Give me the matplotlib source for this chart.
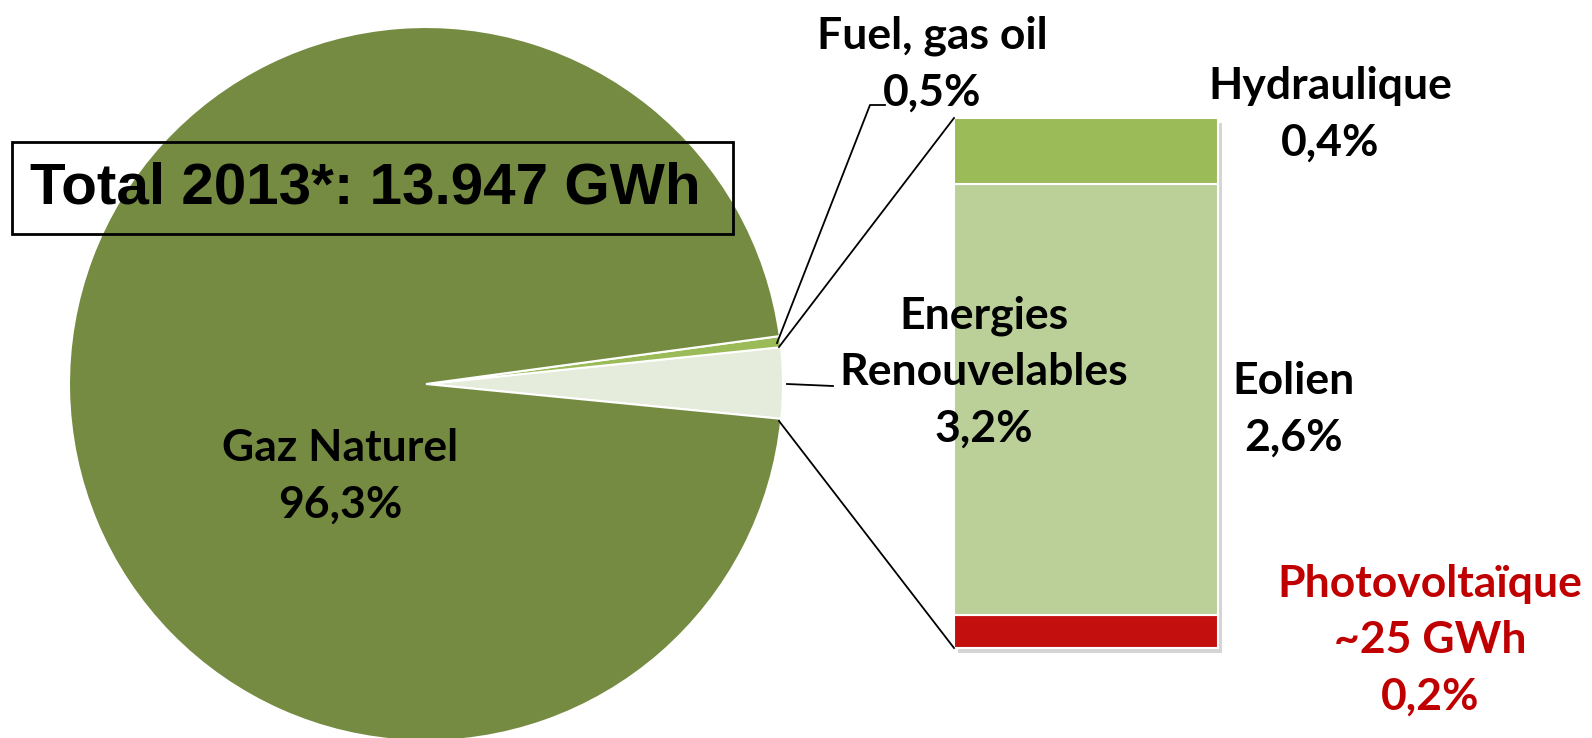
import numpy as np
import matplotlib.pyplot as plt
from matplotlib.patches import Rectangle

# pie: share of electricity production 2013 (%)
pie_labels = ['Energies Renouvelables', 'Fuel, gas oil', 'Gaz Naturel']
pie_values = [3.2, 0.5, 96.3]
pie_colors = ['#E6ECDC', '#9BBB59', '#758B42']

# bar: breakdown of renewables (%), bottom to top
bar_labels = ['Photovoltaïque', 'Eolien', 'Hydraulique']
bar_values = [0.2, 2.6, 0.4]
bar_colors = ['#C40F0F', '#BBCF99', '#9BBB59']

W, H = 1592, 738
fig = plt.figure(figsize=(W / 100, H / 100), dpi=100)
ax = fig.add_axes([0, 0, 1, 1])

def Y(y):
    # image rows -> axis coords
    return H - y

# pie
cx, cy, r = 426, Y(384), 357
ax.pie(pie_values, colors=pie_colors, startangle=-5.6, counterclock=True,
       center=(cx, cy), radius=r, frame=True,
       wedgeprops=dict(edgecolor='white', linewidth=1.5))
ax.set_xlim(0, W)
ax.set_ylim(0, H)
ax.set_aspect('equal')
ax.axis('off')

# stacked bar of renewables
bx0, bx1 = 954, 1218
btop, bbot = Y(118), Y(648)
scale = (btop - bbot) / sum(bar_values)
ax.add_patch(Rectangle((bx0 + 4, bbot - 5), bx1 - bx0, btop - bbot,
                       facecolor='#888888', alpha=0.35, edgecolor='none', zorder=2))
bottom = bbot
for v, c in zip(bar_values, bar_colors):
    ax.bar(bx0, v * scale, width=bx1 - bx0, bottom=bottom, align='edge',
           color=c, edgecolor='white', linewidth=1.5, zorder=3)
    bottom += v * scale

# connector lines
lk = dict(color='black', lw=1.3, zorder=4)
ax.plot([779, bx0], [Y(347), btop], **lk)
ax.plot([779, bx0], [Y(421), bbot], **lk)
ax.plot([777, 870, 885], [Y(343), Y(105), Y(105)], **lk)
ax.plot([787, 833], [Y(384), Y(386)], **lk)

# total box
ax.add_patch(Rectangle((12, Y(234)), 721, 92, fill=False,
                       edgecolor='black', lw=2, zorder=5))
ax.text(365, Y(188), 'Total 2013*: 13.947 GWh', ha='center', va='center',
        fontsize=42, fontweight='bold', family='Liberation Sans', zorder=6)

fs = 32
tk = dict(ha='center', va='center', fontsize=fs, fontweight='bold',
          family=['Lato', 'DejaVu Sans'], linespacing=1.5, zorder=6)
ax.text(340, Y(476), 'Gaz Naturel\n96,3%', **tk)
ax.text(932, Y(64), 'Fuel, gas oil\n0,5%', **tk)
ax.text(1330, Y(114), 'Hydraulique\n0,4%', **tk)
ax.text(984, Y(372), 'Energies\nRenouvelables\n3,2%', **tk)
ax.text(1294, Y(409), 'Eolien\n2,6%', **tk)
ax.text(1430, Y(640), 'Photovoltaïque\n~25 GWh\n0,2%', color='#C00000', **tk)

fig.savefig('out.png', dpi=100)
